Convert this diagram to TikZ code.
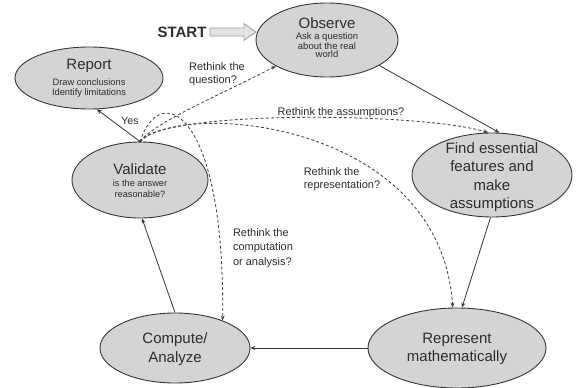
\documentclass[tikz,border=0pt]{standalone}
\usepackage{fontspec}
\setmainfont{Liberation Sans}
\usetikzlibrary{shapes.geometric,arrows.meta}
\definecolor{efill}{RGB}{212,212,212}
\definecolor{edge}{RGB}{55,55,55}
\definecolor{txt}{RGB}{45,45,45}
\definecolor{dsh}{RGB}{70,70,70}
\newcommand\myTitle{\fontsize{15}{18.3}\selectfont}
\newcommand\myLbl{\fontsize{11}{12.5}\selectfont}
\newcommand\mySmallA{\fontsize{9.5}{8.5}\selectfont}
\newcommand\mySmallB{\fontsize{9.3}{10}\selectfont}
\newcommand\mySmallC{\fontsize{9.2}{11.5}\selectfont}
\tikzset{
  stage/.style={ellipse, draw=edge, fill=efill, line width=0.9pt, inner sep=0pt},
  stagetext/.style={align=center, text=txt, inner sep=0pt, font=\myTitle},
  lbl/.style={align=left, text=txt, inner sep=0pt, font=\myLbl},
  flow/.style={draw=edge, line width=0.8pt, -{Stealth[length=5pt,width=4pt]}},
  back/.style={draw=dsh, line width=0.85pt, dash pattern=on 3pt off 2.2pt, -{Stealth[length=5pt,width=4pt]}},
}
\begin{document}
\begin{tikzpicture}[x=1pt,y=-1pt]
\useasboundingbox (0,0) rectangle (579,388);
\fill[white] (0,0) rectangle (579,388);

% ellipses
\node[stage, minimum width=142pt, minimum height=74pt] (O) at (327,40) {};
\node[stage, minimum width=148pt, minimum height=62pt] (Rep) at (89,78) {};
\node[stage, minimum width=136pt, minimum height=76pt] (V) at (140,180) {};
\node[stage, minimum width=160pt, minimum height=84pt] (F) at (492,175) {};
\node[stage, minimum width=178pt, minimum height=80pt] (R) at (457,348) {};
\node[stage, minimum width=150pt, minimum height=70pt] (C) at (175,348) {};

% texts
\node[stagetext, font=\mySmallA] (Ot) at (327,38) {{\myTitle Observe}\\[2pt]Ask a question\\about the real\\world};
\node[stagetext, font=\mySmallB] (Rept) at (89,78) {{\myTitle Report}\\[6pt]Draw conclusions\\Identify limitations};
\node[stagetext, font=\mySmallC] (Vt) at (140,181) {{\myTitle Validate}\\[0pt]is the answer\\reasonable?};
\node[stagetext] (Ft) at (492,177) {Find essential\\features and\\make\\assumptions};
\node[stagetext] (Rt) at (457,349) {Represent\\mathematically};
\node[stagetext] (Ct) at (175,349) {Compute/\\Analyze};

% start
\node[text=txt, inner sep=0pt, font=\fontsize{15}{18}\selectfont\bfseries] (S) at (182,32) {START};
\draw[draw=gray!75, fill=gray!22, line width=0.8pt]
  (210,28) -- (244,28) -- (244,23.5) -- (256,32) -- (244,40.5) -- (244,36) -- (210,36) -- cycle;

% main cycle
\draw[flow] (O.-26) -- (F.80);
\draw[flow] (F.-92) -- (R.83);
\draw[flow] (R.west) -- (C.east);
\draw[flow] (C.north) -- (V.-87);
\draw[flow] (V.north) -- (Rep.-76);
\node[text=txt, inner sep=0pt, font=\fontsize{10.5}{12}\selectfont] (yes) at (130,121) {Yes};

% rethink loops
\fill[edge] (V.north) circle (1.6pt);
\draw[back] (V.north) .. controls (155,122) and (220,95) .. (O.207);
\draw[back] (V.north) .. controls (160,110) and (420,112) .. (F.95);
\draw[back] (V.north) .. controls (182,100) and (440,120) .. (R.96);
\draw[back] (V.north) .. controls (160,80) and (225,110) .. (C.30);

\node[lbl] (lq) at (217,74) {Rethink the\\question?};
\node[lbl] (la) at (341,113) {Rethink the assumptions?};
\node[lbl] (lr) at (342,179) {Rethink the\\representation?};
\node[lbl, font=\fontsize{11}{14.5}\selectfont] (lc) at (263,248) {Rethink the\\computation\\or analysis?};
\end{tikzpicture}
\end{document}
